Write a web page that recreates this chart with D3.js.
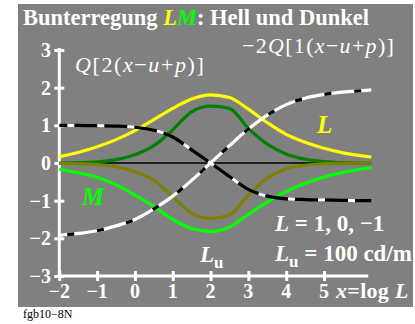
<!doctype html>
<html>
<head>
<meta charset="utf-8">
<script src="https://cdn.jsdelivr.net/npm/d3@7"></script>
<style>
  body { margin: 0; background: #fff; }
  svg text { font-family: "Liberation Serif", "DejaVu Serif", serif; }
</style>
</head>
<body>
<svg id="chart" width="415" height="324"></svg>
<script>
// sample positions x = log L
var xs = [-2, -1.5, -1, -0.5, 0, 0.5, 1, 1.5, 2, 2.5, 3, 3.5, 4, 4.5, 5, 5.5, 6, 6.25];

// values
var lYellow = [0.17, 0.28, 0.43, 0.62, 0.86, 1.15, 1.45, 1.70, 1.81, 1.74, 1.43, 1.07, 0.76, 0.55, 0.39, 0.27, 0.19, 0.16];
var mGreen = [-0.16, -0.26, -0.38, -0.58, -0.85, -1.15, -1.50, -1.74, -1.82, -1.70, -1.36, -1.04, -0.76, -0.54, -0.37, -0.25, -0.16, -0.13];
var darkGreen = [0, 0.01, 0.03, 0.09, 0.22, 0.46, 0.88, 1.36, 1.51, 1.45, 0.92, 0.50, 0.24, 0.10, 0.04, 0.01, 0, 0];
var olive = [-0.01, -0.02, -0.04, -0.10, -0.23, -0.46, -0.89, -1.34, -1.47, -1.38, -0.85, -0.40, -0.15, -0.06, -0.02, -0.01, 0, 0];
var qFall = [1.0, 1.0, 0.99, 0.98, 0.95, 0.87, 0.69, 0.35, 0, -0.36, -0.70, -0.88, -0.95, -0.97, -0.98, -0.99, -1.0, -1.0];
var qRise = [-1.92, -1.87, -1.80, -1.67, -1.50, -1.22, -0.88, -0.46, 0, 0.46, 0.90, 1.27, 1.55, 1.72, 1.82, 1.88, 1.92, 1.94];

var xTicks = [-2, -1, 0, 1, 2, 3, 4, 5];
var yTicks = [-3, -2, -1, 0, 1, 2, 3];

var svg = d3.select("#chart");

var x = d3.scaleLinear().domain([-2, 5]).range([59.3, 324]);
var y = d3.scaleLinear().domain([-3, 3]).range([276, 50]);

svg.append("rect").attr("x", 18).attr("y", 4).attr("width", 395).attr("height", 303).attr("fill", "#808080");

// axes
var xAxis = svg.append("g").attr("transform", "translate(0," + y(-3) + ")")
  .call(d3.axisBottom(x).tickValues(xTicks).tickSize(0).tickFormat(""));
xAxis.select(".domain").remove();
xAxis.append("line").attr("x1", x(-2)).attr("x2", x(6.17)).attr("stroke", "#fff").attr("stroke-width", 3);
xAxis.selectAll(".tick line").attr("y1", -5).attr("y2", 5).attr("stroke", "#fff").attr("stroke-width", 3);

var yAxis = svg.append("g").attr("transform", "translate(" + x(-2) + ",0)")
  .call(d3.axisLeft(y).tickValues(yTicks).tickSize(0).tickFormat(""));
yAxis.select(".domain").remove();
yAxis.append("line").attr("y1", y(-3)).attr("y2", y(3) - 2).attr("stroke", "#fff").attr("stroke-width", 3);
yAxis.selectAll(".tick line").attr("x1", -5).attr("x2", 5).attr("stroke", "#fff").attr("stroke-width", 3);

svg.selectAll(".xlab").data(xTicks).enter().append("text")
  .attr("x", function (d) { return x(d); }).attr("y", 298)
  .attr("text-anchor", "middle").attr("fill", "#fff")
  .attr("font-size", 20).attr("font-weight", "bold")
  .text(function (d) { return d < 0 ? "\u2212" + (-d) : d; });

svg.selectAll(".ylab").data(yTicks).enter().append("text")
  .attr("x", 51).attr("y", function (d) { return y(d) + 7; })
  .attr("text-anchor", "end").attr("fill", "#fff")
  .attr("font-size", 20).attr("font-weight", "bold")
  .text(function (d) { return d < 0 ? "\u2212" + (-d) : d; });

// curves
var line = d3.line()
  .x(function (d, i) { return x(xs[i]); })
  .y(function (d) { return y(d); })
  .curve(d3.curveMonotoneX);

svg.append("line").attr("x1", x(-2)).attr("x2", x(6.25)).attr("y1", y(0)).attr("y2", y(0))
  .attr("stroke", "#000").attr("stroke-width", 1.5);

function curve(vals, color) {
  svg.append("path").attr("d", line(vals)).attr("fill", "none")
    .attr("stroke", color).attr("stroke-width", 3.2);
}
curve(lYellow, "#ffff00");
curve(mGreen, "#00ff00");
curve(darkGreen, "#008000");
curve(olive, "#808000");

function dashed(vals, base, dash) {
  svg.append("path").attr("d", line(vals)).attr("fill", "none")
    .attr("stroke", base).attr("stroke-width", 3.2);
  svg.append("path").attr("d", line(vals)).attr("fill", "none")
    .attr("stroke", dash).attr("stroke-width", 3.2)
    .attr("stroke-dasharray", "7,23").attr("stroke-dashoffset", -8);
}
dashed(qFall, "#000", "#fff");
dashed(qRise, "#fff", "#000");

// labels
var title = svg.append("text").attr("x", 23).attr("y", 25).attr("fill", "#fff")
  .attr("font-size", 22.5).attr("font-weight", "bold");
title.append("tspan").text("Bunterregung ");
title.append("tspan").attr("fill", "#ffff00").attr("font-style", "italic").text("L");
title.append("tspan").attr("fill", "#00ff00").attr("font-style", "italic").text("M");
title.append("tspan").text(": Hell und Dunkel");

function formula(xp, yp, parts, size, weight, spacing) {
  var t = svg.append("text").attr("x", xp).attr("y", yp).attr("fill", "#fff")
    .attr("font-size", size).attr("font-weight", weight || "normal")
    .attr("letter-spacing", spacing || 0);
  parts.forEach(function (p) {
    var s = t.append("tspan").text(p[0]);
    if (p[1]) s.attr("font-style", "italic");
  });
  return t;
}

formula(242, 53, [["\u22122"], ["Q", 1], ["[1("], ["x", 1], ["\u2212"], ["u", 1], ["+"], ["p", 1], [")]"]], 22, "normal", 1.3);
formula(75, 72, [["Q", 1], ["[2("], ["x", 1], ["\u2212"], ["u", 1], ["+"], ["p", 1], [")]"]], 22, "normal", 1.6);

svg.append("text").attr("x", 317).attr("y", 133).attr("fill", "#ffff00")
  .attr("font-size", 25).attr("font-weight", "bold").attr("font-style", "italic").text("L");
svg.append("text").attr("x", 82).attr("y", 205).attr("fill", "#00ff00")
  .attr("font-size", 25).attr("font-weight", "bold").attr("font-style", "italic").text("M");

formula(275, 231, [["L", 1], [" = 1, 0, \u22121"]], 23, "bold", 0);

var lu = svg.append("text").attr("x", 275).attr("y", 261).attr("fill", "#fff")
  .attr("font-size", 23).attr("font-weight", "bold");
lu.append("tspan").attr("font-style", "italic").text("L");
lu.append("tspan").attr("font-size", 17).attr("dy", 6).text("u");
lu.append("tspan").attr("dy", -6).text(" = 100 cd/m");

var lu2 = svg.append("text").attr("x", 200).attr("y", 262).attr("fill", "#fff")
  .attr("font-size", 23).attr("font-weight", "bold");
lu2.append("tspan").attr("font-style", "italic").text("L");
lu2.append("tspan").attr("font-size", 17).attr("dy", 6).text("u");

formula(336, 298, [["x", 1], ["=log "], ["L", 1]], 22, "bold", 0.3);

svg.append("text").attr("x", 23).attr("y", 318).attr("fill", "#000")
  .attr("font-size", 12).text("fgb10\u22128N");
</script>
</body>
</html>
